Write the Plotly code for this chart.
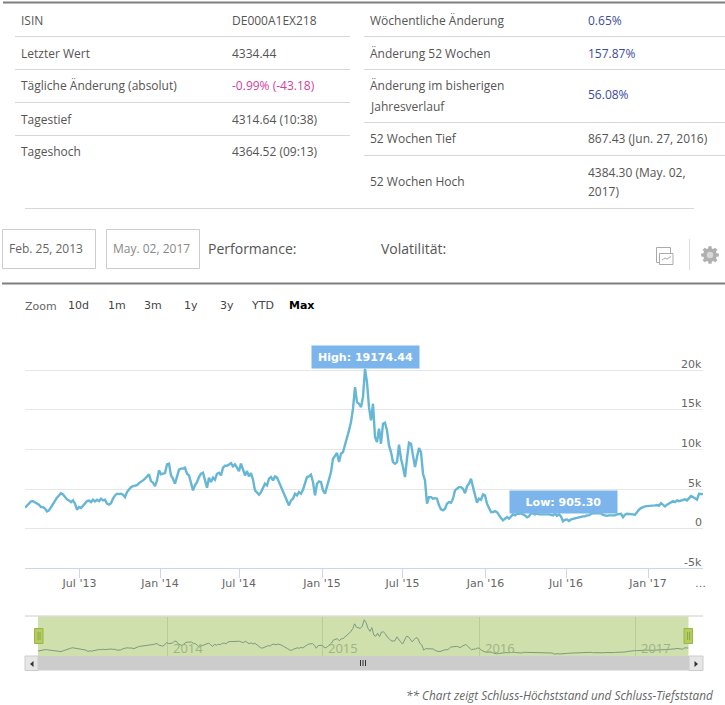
import math
import plotly.graph_objects as go

W = 725
H = 705

# index levels, one per 2px of the plot width
values = [
    2650, 2940, 3280, 3450, 3480, 3320, 3160, 3030, 2730, 2730, 2530, 2180, 2310, 2730, 3160, 3660, 3910, 4200, 4490, 4330,
    3990, 3700, 3570, 3360, 3570, 3160, 2400, 2730, 2600, 2940, 3280, 3480, 3540, 3360, 3660, 3450, 3660, 3480, 3790, 3570,
    3660, 3160, 3030, 3230, 3790, 4200, 4420, 4370, 4420, 4290, 3990, 4620, 4960, 5250, 5380, 5470, 5500, 5760, 5880, 6100,
    6310, 6600, 6860, 6010, 5810, 5380, 6100, 7360, 6860, 6940, 7020, 8120, 8210, 6730, 6310, 5680, 6520, 7450, 7580, 7580,
    7700, 6940, 6730, 5880, 4840, 5470, 5880, 6520, 6940, 7070, 6190, 5180, 6440, 5880, 6440, 6190, 6940, 7070, 6730, 7700,
    7950, 7950, 8120, 8280, 7870, 8120, 7700, 7270, 8210, 7580, 6730, 7270, 6600, 7020, 6190, 4840, 4490, 4290, 4620, 5250,
    5680, 5470, 6310, 6520, 6100, 6600, 6440, 5880, 5250, 4840, 3990, 3360, 2940, 3570, 3790, 4420, 4200, 4620, 4420, 4920,
    5880, 6520, 6600, 6820, 5880, 4200, 5680, 5970, 5880, 4840, 4420, 5250, 6310, 7150, 8840, 9130, 9550, 8410, 9470, 9670,
    10520, 11400, 12410, 13460, 15150, 17880, 15980, 15780, 15350, 16620, 20180, 18510, 15350, 13670, 15780, 11570, 10930, 12630, 10730, 13260,
    13380, 12410, 10520, 9670, 8410, 8210, 8410, 10610, 8840, 7780, 6520, 8840, 10860, 10730, 9470, 7780, 9040, 10180, 9670, 6940,
    6100, 3160, 3990, 3990, 3790, 3860, 3790, 2940, 2440, 2310, 2530, 3160, 3360, 3280, 3790, 4840, 5050, 5250, 5250, 5050,
    4490, 5340, 5680, 6310, 5250, 4420, 3280, 3790, 3660, 4330, 4200, 3160, 2530, 2100, 2100, 2220, 2100, 1680, 1340, 1050,
    1260, 1460, 1260, 1550, 1810, 1680, 1890, 1890, 1930, 1810, 1680, 1430, 1550, 1930, 1930, 1810, 1930, 1810, 1810, 1810,
    1870, 1870, 1810, 1740, 1680, 1930, 1620, 1810, 1550, 920, 1110, 1170, 980, 1170, 1240, 1300, 1360, 1430, 1490, 1550,
    1550, 1680, 1680, 1870, 1930, 1930, 1870, 1930, 1930, 1740, 1680, 1620, 1680, 1680, 1740, 1680, 1810, 1810, 1870, 1460,
    1770, 1890, 1890, 1840, 1810, 1770, 2100, 2400, 2600, 2730, 2820, 2850, 2850, 2940, 2900, 2940, 2980, 2900, 3230, 3030,
    2820, 3030, 3160, 3280, 3480, 3360, 3570, 3480, 3540, 3570, 3700, 3570, 3860, 4120, 3990, 3860, 3660, 4420, 4420, 4370,
]
sessions = list(range(len(values)))

# sessions on which the month ticks fall (the axis is ordinal, not calendar)
tick_sessions = [27.25, 67.5, 107, 148.5, 188.75, 230.25, 270.5, 311.5]
tick_labels = ["Jul '13", "Jan '14", "Jul '14", "Jan '15", "Jul '15", "Jan '16", "Jul '16", "Jan '17"]
year_sessions = [67.5, 148.5, 230.25, 311.5]
year_labels = ["2014", "2015", "2016", "2017"]
y_ticks = [-5000, 0, 5000, 10000, 15000, 20000]
y_labels = ["-5k", "0", "5k", "10k", "15k", "20k"]

left_rows = [("ISIN", "DE000A1EX218"), ("Letzter Wert", "4334.44"), ("Tägliche Änderung (absolut)", "-0.99% (-43.18)"),
             ("Tagestief", "4314.64 (10:38)"), ("Tageshoch", "4364.52 (09:13)")]
right_labels = ["Wöchentliche Änderung", "Änderung 52 Wochen", "Änderung im bisherigen", "Jahresverlauf",
                "52 Wochen Tief", "52 Wochen Hoch"]
right_values = ["0.65%", "157.87%", "56.08%", "867.43 (Jun. 27, 2016)", "4384.30 (May. 02,", "2017)"]
zoom_buttons = ["10d", "1m", "3m", "1y", "3y", "YTD", "Max"]

TEXT = "#555555"
PINK = "#cf3f9e"
BLUE = "#3a4c9c"
CHART_FONT = "DejaVu Sans"
TABLE_FONT = "Open Sans"


def fx(x):
    return x / W


def fy(y):
    return 1 - y / H


def note(text, x, y, size=12, color=TEXT, anchor="left", font=TABLE_FONT, style="normal", align="left", **kw):
    return dict(text=text, x=fx(x), y=fy(y), xref="paper", yref="paper", xanchor=anchor, yanchor="middle",
                showarrow=False, borderpad=0, align=align,
                font=dict(family=font, size=size, color=color, style=style), **kw)


def line(x0, y0, x1, y1, color="#d8d8d8", width=1):
    return dict(type="line", xref="paper", yref="paper", x0=fx(x0), y0=fy(y0), x1=fx(x1), y1=fy(y1),
                line=dict(color=color, width=width))


def box(x0, y0, x1, y1, fill="rgba(0,0,0,0)", color="#cccccc", width=1, layer="above"):
    return dict(type="rect", xref="paper", yref="paper", x0=fx(x0), y0=fy(y0), x1=fx(x1), y1=fy(y1),
                fillcolor=fill, line=dict(color=color, width=width), layer=layer)


def triangle(x0, x1, y, half):
    path = f"M {fx(x0)} {fy(y - half)} L {fx(x1)} {fy(y)} L {fx(x0)} {fy(y + half)} Z"
    return dict(type="path", xref="paper", yref="paper", path=path, fillcolor="#333333", line=dict(width=0))


def gear(cx, cy, outer, inner, teeth=8):
    pts = []
    step = 2 * math.pi / teeth
    for i in range(teeth):
        a = i * step
        for off, r in [(-0.32, inner), (-0.2, outer), (0.2, outer), (0.32, inner)]:
            t = a + off * step * 1.1
            pts.append((cx + r * math.cos(t), cy + r * math.sin(t)))
    path = "M " + " L ".join(f"{fx(x)} {fy(y)}" for x, y in pts) + " Z"
    return dict(type="path", xref="paper", yref="paper", path=path, fillcolor="#b0b0b0", line=dict(width=0))


notes = []
shapes = []

# table
for (label, val), y in zip(left_rows, [20, 53, 86, 119, 152]):
    notes.append(note(label, 20, y))
    notes.append(note(val, 231, y, color=PINK if val.startswith("-") else TEXT))
for label, y in zip(right_labels, [20, 53, 86, 106, 139, 181]):
    notes.append(note(label, 369, y))
for val, y in zip(right_values, [20, 53, 95, 139, 172, 191]):
    notes.append(note(val, 587, y, color=BLUE if val.endswith("%") else TEXT))
shapes.append(line(3, 2.5, W, 2.5, "#7f7f7f", 2))
for y in [36.5, 69.5, 102.5, 135.5]:
    shapes.append(line(15, y, 350, y))
for y in [36.5, 69.5, 122.5, 155.5]:
    shapes.append(line(364, y, W, y))
shapes.append(line(25, 208.5, 694, 208.5))

# date boxes and toolbar
shapes.append(box(2.5, 229.5, 95.5, 268.5))
shapes.append(box(106.5, 229.5, 199.5, 268.5))
notes.append(note("Feb. 25, 2013", 8, 248, 12, "#666666"))
notes.append(note("May. 02, 2017", 111.5, 248, 12, "#888888"))
notes.append(note("Performance:", 207, 249, 14))
notes.append(note("Volatilität:", 380, 249, 14))
shapes.append(box(656.5, 247.5, 670.5, 262.5, color="#aaaaaa"))
shapes.append(box(659.5, 253.5, 673, 264.5, fill="white", color="#aaaaaa"))
shapes.append(line(662, 260, 665, 258, "#aaaaaa"))
shapes.append(line(665, 258, 667, 259, "#aaaaaa"))
shapes.append(line(667, 259, 671, 256.5, "#aaaaaa"))
shapes.append(line(689.5, 239, 689.5, 270, "#dddddd"))
shapes.append(gear(710, 255, 9, 6.8))
shapes.append(dict(type="circle", xref="paper", yref="paper", x0=fx(706.8), y0=fy(251.8), x1=fx(713.2), y1=fy(258.2),
                   fillcolor="#d8d8d8", line=dict(width=0)))
shapes.append(line(2, 283.5, W, 283.5, "#7f7f7f", 2))

# range selector
notes.append(note("Zoom", 24, 306, 11, "#666666", font=CHART_FONT))
for label, x in zip(zoom_buttons, [67, 107, 143, 183, 219, 250, 288]):
    if label == "Max":
        notes.append(note("<b>Max</b>", x, 305, 11, "#000000", font=CHART_FONT))
    else:
        notes.append(note(label, x, 305, 11, "#444444", font=CHART_FONT))

# y tick labels sit on top of their grid lines, inside the plot
for val, label in zip(y_ticks, y_labels):
    notes.append(dict(text=label, x=1, y=val, xref="x domain", yref="y", xanchor="right", yanchor="middle", yshift=6,
                      showarrow=False, borderpad=0, font=dict(family=CHART_FONT, size=11, color="#666666")))
notes.append(note("…", 700, 583, 11, "#666666", anchor="center", font=CHART_FONT))

# high / low flags
notes.append(note("<b>High: 19174.44</b>", 365.5, 357, 11, "white", anchor="center", font=CHART_FONT, align="center",
                  width=107, height=22, bgcolor="#7cb5ec"))
notes.append(note("<b>Low: 905.30</b>", 563.5, 501.5, 11, "white", anchor="center", font=CHART_FONT, align="center",
                  width=107, height=22, bgcolor="#7cb5ec"))

# navigator
shapes.append(box(38, 616.5, 688.5, 656, fill="#cfe0ac", color="#cfe0ac", width=0, layer="below"))
shapes.append(line(25, 616, 703, 616, "#cccccc"))
for val, label in zip(year_sessions, year_labels):
    notes.append(dict(text=label, x=val, y=0.2, xref="x2", yref="y2 domain", xanchor="left", yanchor="middle", xshift=4,
                      showarrow=False, borderpad=0, font=dict(family=TABLE_FONT, size=13, color="#9fb286")))

# scrollbar
shapes.append(box(25, 656, 703, 670.5, fill="#cccccc", color="#cccccc", width=0))
shapes.append(box(25, 656, 38, 670.5, fill="#e6e6e6", color="#cccccc", width=1))
shapes.append(box(689, 656, 703, 670.5, fill="#e6e6e6", color="#cccccc", width=1))
shapes.append(triangle(33.5, 30, 664, 3))
shapes.append(triangle(694.5, 698, 664, 3))
for x in [360.5, 363, 365.5]:
    shapes.append(line(x, 660, x, 666, "#333333"))

# navigator handles
for x0 in [34.5, 684]:
    shapes.append(box(x0, 628.5, x0 + 8.5, 643.5, fill="#b4cc62", color="#9ab83f"))
    shapes.append(line(x0 + 3.5, 632, x0 + 3.5, 640, "#8fa84a"))
    shapes.append(line(x0 + 5.5, 632, x0 + 5.5, 640, "#8fa84a"))

notes.append(note("** Chart zeigt Schluss-Höchststand und Schluss-Tiefststand", 714.5, 695, 11.8, "#666666",
                  anchor="right", style="italic"))

fig = go.Figure()
fig.add_trace(go.Scatter(x=sessions, y=values, mode="lines", line=dict(color="#66b6d6", width=2.4), hoverinfo="skip",
                         cliponaxis=False))
fig.add_trace(go.Scatter(x=sessions, y=values, mode="lines", line=dict(color="#7a9a82", width=1), hoverinfo="skip",
                         xaxis="x2", yaxis="y2"))

fig.update_layout(
    width=W,
    height=H,
    autosize=False,
    margin=dict(l=0, r=0, t=0, b=0),
    paper_bgcolor="white",
    plot_bgcolor="rgba(0,0,0,0)",
    showlegend=False,
    annotations=notes,
    shapes=shapes,
    xaxis=dict(domain=[fx(25), fx(703)], range=[0, len(values) - 1], tickmode="array", tickvals=tick_sessions,
               ticktext=tick_labels, ticks="outside", ticklen=9, tickcolor="#ccd6eb", showline=True,
               linecolor="#ccd6eb", showgrid=False, zeroline=False, anchor="y", ticklabelstandoff=-5,
               tickfont=dict(family=CHART_FONT, size=11, color="#666666")),
    yaxis=dict(domain=[fy(568.3), fy(368)], range=[-5000, 20290], tickmode="array", tickvals=y_ticks,
               showticklabels=False, gridcolor="#e6e6e6", showgrid=True, zeroline=False, anchor="x"),
    xaxis2=dict(domain=[fx(38), fx(688.5)], range=[0, len(values) - 1], tickmode="array", tickvals=year_sessions,
                showticklabels=False, gridcolor="#b9cd98", showgrid=True, zeroline=False, anchor="y2"),
    yaxis2=dict(domain=[fy(656), fy(616.5)], range=[-137, 22000], showticklabels=False, showgrid=False,
                zeroline=False, anchor="x2"),
)

fig.write_html("out.html", config={"displayModeBar": False}, post_script="document.body.style.margin='0';")
